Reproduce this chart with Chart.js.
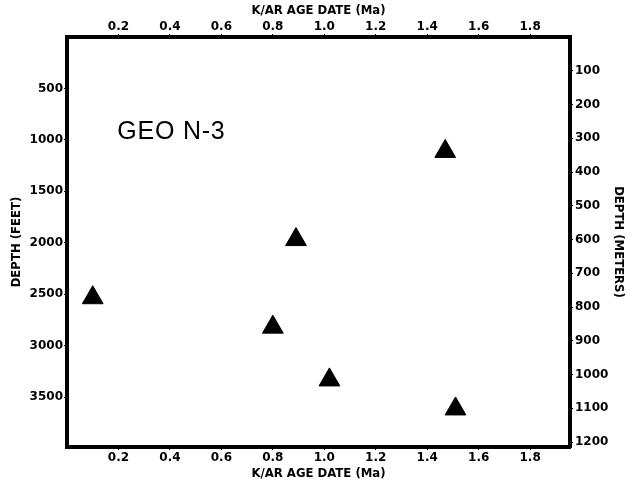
<!DOCTYPE html>
<html lang="en">
<head>
    <meta charset="UTF-8">
    <title>GEO N-3 K/Ar age vs depth</title>
    <script src="https://cdn.jsdelivr.net/npm/chart.js"></script>
    <style>
        body { margin: 0; background: #fff; }
        #wrap { position: relative; width: 626px; height: 482px; }
    </style>
</head>
<body>
    <div id="wrap"><canvas id="ageChart"></canvas></div>

    <script>
        // K/Ar age dates (Ma) and sample depths (feet)
        const ageMa = [0.10, 1.47, 0.89, 0.80, 1.02, 1.51];
        const depthFt = [2534, 1112, 1969, 2820, 3333, 3615];

        const ageTicks = [0.2, 0.4, 0.6, 0.8, 1.0, 1.2, 1.4, 1.6, 1.8];
        const feetTicks = [500, 1000, 1500, 2000, 2500, 3000, 3500];
        const meterTicks = [100, 200, 300, 400, 500, 600, 700, 800, 900, 1000, 1100, 1200];

        const FT_TO_M = 0.3048;
        const ageMax = 1.955;
        const feetMax = 3985;

        const points = ageMa.map((a, i) => ({ x: a, y: depthFt[i] }));

        const tickFont = { family: 'DejaVu Sans', size: 12, weight: 'bold' };
        const titleFont = { family: 'DejaVu Sans', size: 11.7, weight: 'bold' };

        function fixedTicks(list) {
            return function (scale) {
                scale.ticks = list.map(v => ({ value: v }));
            };
        }

        const edge = { display: true, width: 4, color: '#000' };
        const tickMarks = { drawOnChartArea: false, drawTicks: true, tickLength: 3, color: '#000', lineWidth: 1 };

        // draws the well name inside the plot
        const wellLabel = {
            id: 'wellLabel',
            afterDatasetsDraw(chart) {
                const c = chart.ctx;
                const x = chart.scales.x.getPixelForValue(0.195);
                const y = chart.scales.y.getPixelForValue(925);
                c.save();
                c.fillStyle = '#000';
                c.font = '25px "Liberation Sans"';
                c.letterSpacing = '0.8px';
                c.textBaseline = 'middle';
                c.fillText('GEO N-3', x, y);
                c.restore();
            }
        };

        new Chart(document.getElementById('ageChart'), {
            type: 'scatter',
            data: {
                datasets: [{
                    data: points,
                    pointStyle: 'triangle',
                    pointRadius: 12,
                    backgroundColor: '#000',
                    borderColor: '#000',
                    borderWidth: 1
                }]
            },
            options: {
                responsive: true,
                maintainAspectRatio: false,
                animation: false,
                layout: { padding: 0 },
                plugins: { legend: { display: false }, tooltip: { enabled: false } },
                scales: {
                    x: {
                        type: 'linear', position: 'bottom', min: 0, max: ageMax,
                        afterBuildTicks: fixedTicks(ageTicks),
                        afterFit(s) { s.height = 35; },
                        border: edge, grid: tickMarks,
                        ticks: { color: '#000', font: tickFont, padding: 1, maxRotation: 0,
                                 callback: v => v.toFixed(1) },
                        title: { display: true, text: 'K/AR AGE DATE (Ma)', color: '#000', font: titleFont, padding: { bottom: 1 } }
                    },
                    x2: {
                        type: 'linear', position: 'top', min: 0, max: ageMax,
                        afterBuildTicks: fixedTicks(ageTicks),
                        afterFit(s) { s.height = 37; },
                        border: edge, grid: tickMarks,
                        ticks: { color: '#000', font: tickFont, padding: 0, maxRotation: 0,
                                 callback: v => v.toFixed(1) },
                        title: { display: true, text: 'K/AR AGE DATE (Ma)', color: '#000', font: titleFont, padding: { top: 4 } }
                    },
                    y: {
                        type: 'linear', position: 'left', reverse: true, min: 0, max: feetMax,
                        afterBuildTicks: fixedTicks(feetTicks),
                        afterFit(s) { s.width = 67; },
                        border: edge, grid: tickMarks,
                        ticks: { color: '#000', font: tickFont, padding: 1, callback: v => String(v) },
                        title: { display: true, text: 'DEPTH (FEET)', color: '#000', font: titleFont, padding: { top: 10 } }
                    },
                    y2: {
                        type: 'linear', position: 'right', reverse: true, min: 0, max: feetMax * FT_TO_M,
                        afterBuildTicks: fixedTicks(meterTicks),
                        afterFit(s) { s.width = 56; },
                        border: edge, grid: tickMarks,
                        ticks: { color: '#000', font: tickFont, padding: 2, callback: v => String(v) },
                        title: { display: true, text: 'DEPTH (METERS)', color: '#000', font: titleFont, padding: { top: 1 } }
                    }
                }
            },
            plugins: [wellLabel]
        });
    </script>
</body>
</html>
